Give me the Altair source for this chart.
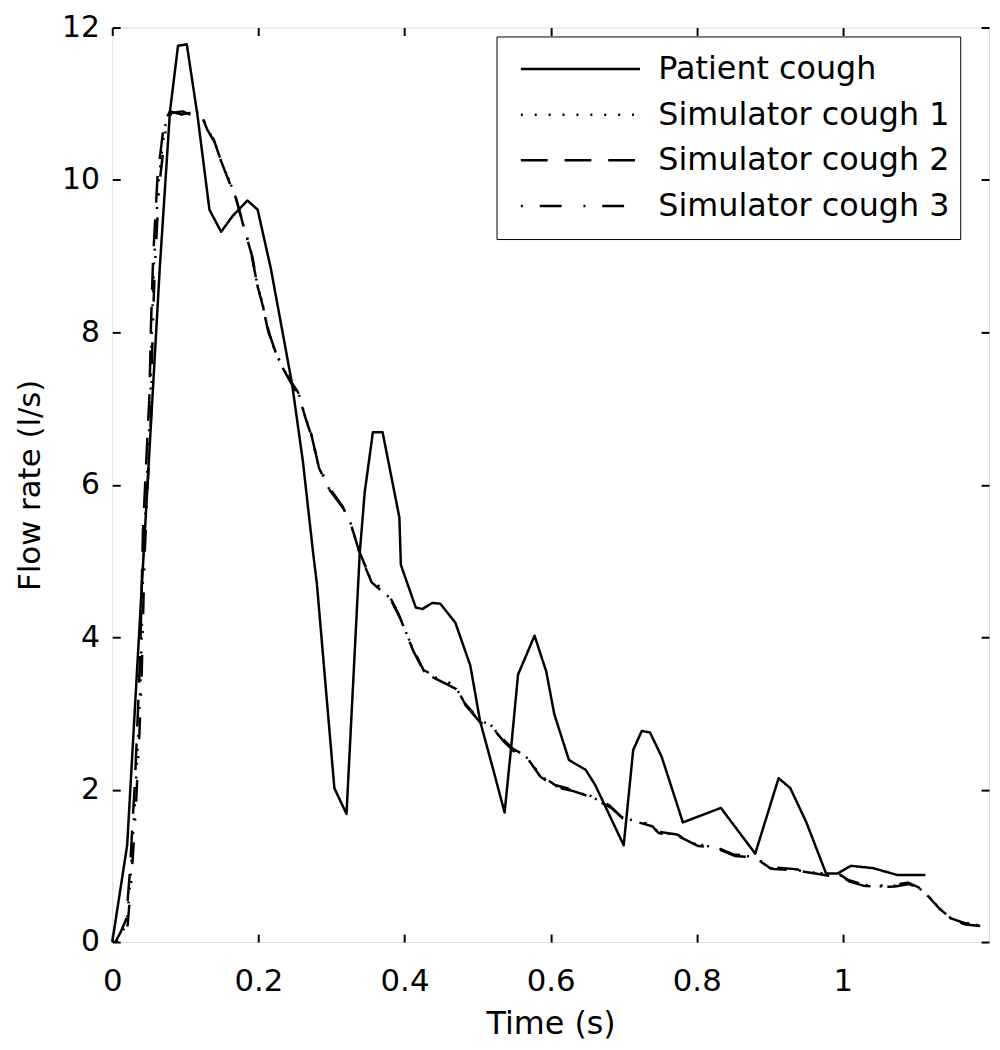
import altair as alt
import pandas as pd

FONT = "DejaVu Sans"

series_names = ["Patient cough", "Simulator cough 1", "Simulator cough 2", "Simulator cough 3"]
dash_patterns = [[1, 0], [2, 12], [27, 17], [2, 17, 22, 22]]
x_ticks = [0, 0.2, 0.4, 0.6, 0.8, 1]
y_ticks = [0, 2, 4, 6, 8, 10, 12]

patient = [
    (0.0, 0.0), (0.0204, 1.27), (0.065, 8.84), (0.079, 10.9), (0.090, 11.76), (0.102, 11.78),
    (0.1166, 10.85), (0.133, 9.61), (0.149, 9.32), (0.165, 9.53), (0.185, 9.73), (0.199, 9.61),
    (0.217, 8.84), (0.246, 7.33), (0.261, 6.3), (0.275, 5.10), (0.280, 4.71), (0.304, 2.02),
    (0.3206, 1.68), (0.3387, 5.10), (0.3455, 5.9), (0.3567, 6.69), (0.370, 6.69), (0.3815, 6.13),
    (0.393, 5.57), (0.395, 4.95), (0.4154, 4.39), (0.4245, 4.37), (0.438, 4.45), (0.449, 4.44),
    (0.4696, 4.19), (0.490, 3.63), (0.5034, 2.90), (0.5215, 2.26), (0.537, 1.70), (0.546, 2.56),
    (0.5554, 3.51), (0.578, 4.02), (0.594, 3.55), (0.605, 2.99), (0.625, 2.39), (0.637, 2.32),
    (0.648, 2.26), (0.661, 2.06), (0.700, 1.27), (0.713, 2.52), (0.7247, 2.77), (0.736, 2.75),
    (0.752, 2.43), (0.781, 1.57), (0.833, 1.76), (0.880, 1.16), (0.912, 2.15), (0.928, 2.02),
    (0.950, 1.57), (0.977, 0.90), (0.993, 0.90), (1.011, 1.0), (1.041, 0.97), (1.0745, 0.88),
    (1.113, 0.88),
]

sim1 = [
    (0.005, 0.0), (0.012, 0.1), (0.020, 0.25), (0.025, 0.85), (0.029, 1.5), (0.032, 2.0),
    (0.036, 2.8), (0.039, 3.5), (0.041, 4.35), (0.043, 5.2), (0.047, 6.0), (0.052, 7.0),
    (0.054, 8.0), (0.057, 8.9), (0.063, 9.95), (0.072, 10.7), (0.080, 10.9), (0.095, 10.88),
    (0.105, 10.87), (0.120, 10.9), (0.129, 10.69), (0.140, 10.5), (0.147, 10.3), (0.158, 10.04),
    (0.169, 9.78), (0.178, 9.45), (0.190, 9.05), (0.198, 8.65), (0.205, 8.4), (0.214, 8.0),
    (0.224, 7.72), (0.233, 7.55), (0.244, 7.35), (0.255, 7.2), (0.264, 6.9), (0.273, 6.65),
    (0.282, 6.26), (0.296, 5.96), (0.316, 5.7), (0.327, 5.48), (0.339, 5.1), (0.354, 4.75),
    (0.366, 4.65), (0.382, 4.49), (0.393, 4.28), (0.411, 3.85), (0.427, 3.55), (0.445, 3.46),
    (0.470, 3.35), (0.483, 3.12), (0.503, 2.9), (0.517, 2.86), (0.535, 2.65), (0.549, 2.52),
    (0.569, 2.41), (0.585, 2.19), (0.607, 2.05), (0.630, 1.99), (0.655, 1.91), (0.682, 1.78),
    (0.698, 1.63), (0.716, 1.59), (0.738, 1.53), (0.747, 1.44), (0.774, 1.40), (0.801, 1.27),
    (0.824, 1.25), (0.851, 1.14), (0.878, 1.12), (0.901, 0.97), (0.932, 0.95), (0.955, 0.92),
    (0.980, 0.88), (0.996, 0.88), (1.009, 0.80), (1.027, 0.75), (1.050, 0.73), (1.070, 0.74),
    (1.090, 0.77), (1.104, 0.71), (1.117, 0.60), (1.131, 0.45), (1.149, 0.30), (1.167, 0.24),
    (1.188, 0.22),
]

sim2 = [
    (0.004, 0.0), (0.011, 0.12), (0.019, 0.3), (0.024, 0.9), (0.028, 1.6), (0.031, 2.1),
    (0.035, 3.0), (0.038, 3.7), (0.040, 4.5), (0.042, 5.4), (0.046, 6.2), (0.051, 7.2),
    (0.053, 8.1), (0.056, 9.0), (0.062, 10.05), (0.071, 10.75), (0.079, 10.9), (0.095, 10.86),
    (0.106, 10.88), (0.121, 10.88), (0.130, 10.66), (0.141, 10.48), (0.148, 10.27), (0.159, 10.0),
    (0.170, 9.74), (0.180, 9.38), (0.192, 8.98), (0.199, 8.6), (0.206, 8.35), (0.215, 7.98),
    (0.225, 7.7), (0.234, 7.52), (0.245, 7.33), (0.256, 7.15), (0.265, 6.86), (0.274, 6.6),
    (0.283, 6.22), (0.297, 5.94), (0.317, 5.68), (0.328, 5.44), (0.340, 5.06), (0.355, 4.72),
    (0.367, 4.62), (0.383, 4.46), (0.394, 4.25), (0.412, 3.82), (0.428, 3.52), (0.446, 3.44),
    (0.471, 3.32), (0.484, 3.1), (0.504, 2.88), (0.518, 2.84), (0.536, 2.63), (0.550, 2.5),
    (0.570, 2.39), (0.586, 2.17), (0.608, 2.03), (0.631, 1.98), (0.656, 1.9), (0.683, 1.76),
    (0.699, 1.62), (0.717, 1.58), (0.739, 1.52), (0.748, 1.43), (0.775, 1.39), (0.802, 1.26),
    (0.825, 1.24), (0.852, 1.13), (0.879, 1.11), (0.902, 0.96), (0.933, 0.94), (0.956, 0.91),
    (0.981, 0.87), (0.997, 0.87), (1.010, 0.79), (1.028, 0.74), (1.051, 0.72), (1.071, 0.73),
    (1.091, 0.76), (1.105, 0.70), (1.118, 0.59), (1.132, 0.44), (1.150, 0.29), (1.168, 0.23),
    (1.188, 0.21),
]

sim3 = [
    (0.006, 0.0), (0.013, 0.08), (0.021, 0.22), (0.026, 0.8), (0.030, 1.4), (0.033, 1.9),
    (0.037, 2.7), (0.040, 3.4), (0.042, 4.2), (0.044, 5.0), (0.048, 5.9), (0.053, 6.9),
    (0.055, 7.9), (0.058, 8.8), (0.064, 9.9), (0.073, 10.65), (0.081, 10.88), (0.096, 10.9),
    (0.106, 10.86), (0.119, 10.92), (0.128, 10.72), (0.139, 10.53), (0.146, 10.33), (0.157, 10.07),
    (0.168, 9.8), (0.177, 9.5), (0.189, 9.1), (0.197, 8.7), (0.204, 8.44), (0.213, 8.03),
    (0.223, 7.75), (0.232, 7.57), (0.243, 7.38), (0.254, 7.22), (0.263, 6.93), (0.272, 6.68),
    (0.281, 6.3), (0.295, 5.99), (0.315, 5.72), (0.326, 5.5), (0.338, 5.13), (0.353, 4.78),
    (0.365, 4.67), (0.381, 4.51), (0.392, 4.3), (0.410, 3.88), (0.426, 3.57), (0.444, 3.48),
    (0.469, 3.37), (0.482, 3.14), (0.502, 2.92), (0.516, 2.87), (0.534, 2.67), (0.548, 2.54),
    (0.568, 2.43), (0.584, 2.21), (0.606, 2.06), (0.629, 2.0), (0.654, 1.92), (0.681, 1.79),
    (0.697, 1.64), (0.715, 1.6), (0.737, 1.54), (0.746, 1.45), (0.773, 1.41), (0.800, 1.28),
    (0.823, 1.26), (0.850, 1.15), (0.877, 1.13), (0.900, 0.98), (0.931, 0.96), (0.954, 0.93),
    (0.979, 0.89), (0.995, 0.89), (1.008, 0.81), (1.026, 0.76), (1.049, 0.74), (1.069, 0.75),
    (1.089, 0.78), (1.103, 0.72), (1.116, 0.61), (1.130, 0.46), (1.148, 0.31), (1.166, 0.25),
    (1.187, 0.23),
]

rows = []
for name, pts in zip(series_names, [patient, sim1, sim2, sim3]):
    for i, (t, v) in enumerate(pts):
        rows.append({"series": name, "t": t, "v": v, "order": i})
df = pd.DataFrame(rows)

x_scale = alt.Scale(domain=[0, 1.2], nice=False, zero=False)
y_scale = alt.Scale(domain=[0, 12], nice=False)

dash = alt.StrokeDash(
    "series:N",
    scale=alt.Scale(domain=series_names, range=dash_patterns),
    legend=alt.Legend(
        title=None, orient="none", legendX=387, legendY=9,
        symbolType="stroke", symbolSize=14400, symbolStrokeWidth=2.5,
        symbolStrokeColor="black", clipHeight=45.5, rowPadding=0,
        labelFont=FONT, labelFontSize=32, labelColor="black", labelLimit=500,
        labelOffset=17, symbolOffset=13, padding=10,
        strokeColor="black", fillColor="white",
    ),
)

sims_layer = alt.Chart(df).transform_filter(
    alt.datum.series != "Patient cough"
).mark_line(color="black", strokeWidth=2.5, strokeJoin="round").encode(
    x=alt.X("t:Q", scale=x_scale, axis=alt.Axis(
        orient="top", values=x_ticks, offset=-8, tickSize=8, tickWidth=2,
        tickColor="black", domain=False, grid=False, labels=False, title=None)),
    y=alt.Y("v:Q", scale=y_scale, axis=alt.Axis(
        orient="right", values=y_ticks, offset=-8, tickSize=8, tickWidth=2,
        tickColor="black", domain=False, grid=False, labels=False, title=None)),
    strokeDash=dash,
    detail="series:N",
    order="order:Q",
)

patient_layer = alt.Chart(df).transform_filter(
    alt.datum.series == "Patient cough"
).mark_line(color="black", strokeWidth=2.5, strokeJoin="round").encode(
    x=alt.X("t:Q", scale=x_scale, axis=alt.Axis(
        orient="bottom", values=x_ticks, format="~g", offset=-8, tickSize=8, tickWidth=2,
        tickColor="black", domain=False, grid=False, labelFont=FONT, labelFontSize=31,
        labelColor="black", labelPadding=25, labelFlush=False, labelOverlap=False,
        title="Time (s)", titleFont=FONT, titleFontSize=32, titleFontWeight="normal",
        titleColor="black", titlePadding=12)),
    y=alt.Y("v:Q", scale=y_scale, axis=alt.Axis(
        orient="left", values=y_ticks, format="~g", offset=-8, tickSize=8, tickWidth=2,
        tickColor="black", domain=False, grid=False, labelFont=FONT, labelFontSize=30,
        labelColor="black", labelPadding=13, labelFlush=False, labelOverlap=False,
        title="Flow rate (l/s)", titleFont=FONT, titleFontSize=31, titleFontWeight="normal",
        titleColor="black", titlePadding=15)),
    strokeDash=dash,
    order="order:Q",
)

chart = alt.layer(sims_layer, patient_layer).resolve_axis(
    x="independent", y="independent"
).properties(
    width=883, height=921,
    autosize=alt.AutoSizeParams(type="none"),
    padding={"left": 105, "top": 16, "right": 3, "bottom": 100},
).configure_view(
    stroke="black", strokeWidth=2
).configure(background="white")

chart.save("out.html", embed_options={"renderer": "svg", "actions": False})
